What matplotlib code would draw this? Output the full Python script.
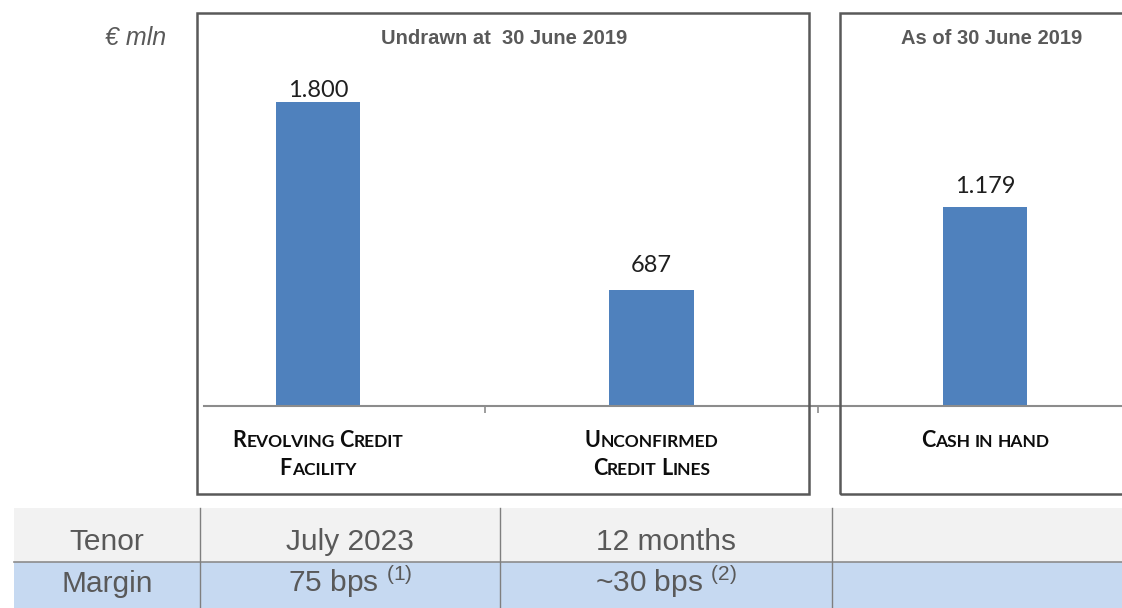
import matplotlib
matplotlib.use("Agg")
import matplotlib.pyplot as plt
from matplotlib.patches import Rectangle
from matplotlib.lines import Line2D
from matplotlib.transforms import IdentityTransform

# ---------------- data ----------------
categories = ["Revolving Credit\nFacility", "Unconfirmed\nCredit Lines", "Cash in hand"]
values = [1800, 687, 1179]
panel_titles = ["Undrawn at  30 June 2019", "As of 30 June 2019"]
unit_label = "€ mln"
table_rows = ["Tenor", "Margin"]
tenor = ["July 2023", "12 months", ""]
margin = ["75 bps", "~30 bps", ""]
margin_notes = ["(1)", "(2)", ""]

# ---------------- style / layout ----------------
W, H = 1122, 608
BAR_COLOR = "#4f81bd"
GRAY_TXT = "#595959"
BOX_COLOR = "#595959"
AXIS_COLOR = "#8c8c8c"
label_gap_px = [5, 18, 14]

plt.rcParams["mathtext.fontset"] = "custom"
plt.rcParams["mathtext.rm"] = "Liberation Sans"
plt.rcParams["mathtext.it"] = "Liberation Sans:italic"
plt.rcParams["mathtext.bf"] = "Liberation Sans:bold"

fig = plt.figure(figsize=(W / 100, H / 100), dpi=100)
fig.patch.set_facecolor("white")


def fx(px):
    return px / W


def fy(py):
    return 1 - py / H


# axes: baseline at y=406 px, bar centres at 318, 652, 985 px
ax = fig.add_axes([fx(204), fy(406), (1122 - 204) / W, (406 - 13) / H])
ax.set_facecolor("none")
x = list(range(len(values)))
ax.bar(x, values, width=0.252, color=BAR_COLOR, zorder=2)
for s in ["top", "left", "right"]:
    ax.spines[s].set_visible(False)
ax.spines["bottom"].set_color(AXIS_COLOR)
ax.spines["bottom"].set_linewidth(1.5)
ax.set_yticks([])
ax.set_xticks([0.5, 1.5])
ax.set_xticklabels([])
ax.tick_params(axis="x", length=5, width=1.2, color=AXIS_COLOR, direction="out")
ax.set_xlim(-0.3418, 2.4108)
ax.set_ylim(0, 2327)

for i, v in enumerate(values):
    lab = f"{v:,}".replace(",", ".")
    ax.annotate(lab, (i, v), xytext=(0, label_gap_px[i] * 0.72), textcoords="offset points",
                ha="center", va="baseline", fontsize=17, family="Lato", color="#1f1f1f")

# panel boxes
fig.add_artist(Rectangle((fx(197), fy(494)), (809 - 197) / W, (494 - 13) / H, fill=False,
                         ec=BOX_COLOR, lw=1.8, transform=fig.transFigure, zorder=5))
fig.add_artist(Rectangle((fx(840), fy(494)), (1146 - 840) / W, (494 - 13) / H, fill=False,
                         ec=BOX_COLOR, lw=1.8, transform=fig.transFigure, zorder=5))

# titles
fig.text(fx(504), fy(44), panel_titles[0], ha="center", va="baseline", fontsize=14.5,
         fontweight="bold", color=GRAY_TXT, family="Liberation Sans")
fig.text(fx(992), fy(44), panel_titles[1], ha="center", va="baseline", fontsize=14.5,
         fontweight="bold", color=GRAY_TXT, family="Liberation Sans")
fig.text(fx(166), fy(45), unit_label, ha="right", va="baseline", fontsize=18,
         style="italic", color=GRAY_TXT, family="Liberation Sans")

# small caps category labels
renderer = fig.canvas.get_renderer()
BIG, SMALL = 15.5, 12.5


def text_width(s, size):
    t = fig.text(0, 0, s, fontsize=size, fontweight="bold", family="Lato",
                 transform=IdentityTransform())
    w = t.get_window_extent(renderer).width
    t.remove()
    return w


space_w = text_width("I I", SMALL) - text_width("II", SMALL)


def smallcaps(xc, baseline_py, s):
    runs = []
    for ch in s:
        kind = "space" if ch == " " else ("big" if ch.isupper() else "small")
        if runs and runs[-1][0] == kind:
            runs[-1][1] += ch
        else:
            runs.append([kind, ch])
    items = []
    total = 0
    for kind, txt in runs:
        if kind == "space":
            items.append((None, space_w * len(txt)))
            total += space_w * len(txt)
            continue
        size = BIG if kind == "big" else SMALL
        t = fig.text(0, 0, txt.upper(), fontsize=size, fontweight="bold", family="Lato",
                     color="#0d0d0d", ha="left", va="baseline", transform=IdentityTransform())
        w = t.get_window_extent(renderer).width
        items.append((t, w))
        total += w
    xcur = xc - total / 2
    for t, w in items:
        if t is not None:
            t.set_position((xcur, H - baseline_py))
        xcur += w


for i, cat in enumerate(categories):
    xc = ax.transData.transform((i, 0))[0]
    for j, line in enumerate(cat.split("\n")):
        smallcaps(xc, 447 + 28 * j, line)

# table
col_edges = [14, 200, 500, 832, 1122]
row_edges = [508, 562, 608]
row_colors = ["#f2f2f2", "#c6d9f1"]
for r in range(2):
    fig.add_artist(Rectangle((fx(col_edges[0]), fy(row_edges[r + 1])),
                             (col_edges[-1] - col_edges[0]) / W,
                             (row_edges[r + 1] - row_edges[r]) / H,
                             fc=row_colors[r], ec="none", transform=fig.transFigure, zorder=1))
fig.add_artist(Line2D([fx(col_edges[0]), fx(col_edges[-1])], [fy(562), fy(562)],
                      color="#8c8c8c", lw=1.2, transform=fig.transFigure, zorder=2))
for cx in col_edges[1:4]:
    fig.add_artist(Line2D([fx(cx), fx(cx)], [fy(508), fy(608)], color="#7f7f7f", lw=1.0,
                          transform=fig.transFigure, zorder=2))

baselines = [550, 592]
cells = [[table_rows[0]] + tenor,
         [table_rows[1]] + [f"{m} $^{{{n}}}$" if n else m for m, n in zip(margin, margin_notes)]]
for r in range(2):
    for c in range(4):
        txt = cells[r][c]
        if not txt:
            continue
        xc = (col_edges[c] + col_edges[c + 1]) / 2
        fig.text(fx(xc), fy(baselines[r]), txt, ha="center", va="baseline", fontsize=21.5,
                 color=GRAY_TXT, family="Liberation Sans", zorder=3)

fig.savefig("out.png", dpi=100)
